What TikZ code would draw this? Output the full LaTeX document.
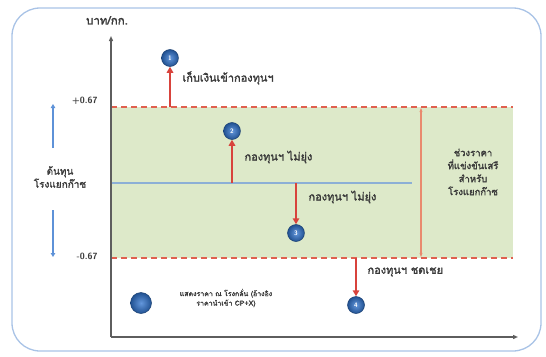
\documentclass[tikz,border=0pt]{standalone}
\usepackage{fontspec}
\setmainfont{Liberation Sans}
\newfontfamily\thaifont[Script=Thai, FakeBold=2]{Loma}
\usetikzlibrary{arrows.meta, positioning}
\definecolor{cframe}{HTML}{A9C3E6}
\definecolor{cband}{HTML}{DDE9C9}
\definecolor{cdash}{HTML}{E0604F}
\definecolor{cred}{HTML}{D8433C}
\definecolor{csalmon}{HTML}{E98A6E}
\definecolor{caxis}{HTML}{5E5E5E}
\definecolor{cmid}{HTML}{8CAFD6}
\definecolor{cblue}{HTML}{5E92D8}
\definecolor{cball}{HTML}{2F74D0}
\definecolor{ctext}{HTML}{3A3A3A}
\tikzset{
  every picture/.style={line width=1pt},
  lbl/.style={font=\thaifont\fontsize{11}{12}\selectfont, text=ctext, inner sep=1pt},
  num/.style={font=\sffamily\bfseries\fontsize{9}{11}\selectfont, text=ctext, inner sep=1pt},
  ball/.style={circle, inner color=cball!75!white, outer color=cball!70!black, draw=cball!55!black, line width=0.5pt,
    minimum size=17pt, inner sep=0pt, text=white, font=\sffamily\bfseries\fontsize{6.5}{7}\selectfont},
  redarrow/.style={-{Triangle[length=6pt, width=6.5pt]}, draw=cred, line width=1.6pt},
  bluearrow/.style={-{Triangle[length=4pt, width=4.5pt]}, draw=cblue, line width=1.4pt},
  axis/.style={-{Triangle[length=5pt, width=4pt]}, draw=caxis, line width=1.3pt},
  limit/.style={draw=cdash, dashed, dash pattern=on 6pt off 4pt, line width=1.6pt},
}
\begin{document}
\begin{tikzpicture}[x=1pt, y=-1pt]
  \useasboundingbox (0,0) rectangle (546,356);
  % frame and band
  \draw[cframe, line width=1.3pt, rounded corners=28pt] (12,8) rectangle (541,351);
  \fill[cband] (111,107) rectangle (513,258);
  \coordinate (hiL) at (111,107); \coordinate (hiR) at (513,107);
  \coordinate (loL) at (111,258); \coordinate (loR) at (513,258);
  \coordinate (midL) at (111,183); \coordinate (midR) at (412,183);
  \draw[cmid, line width=1.3pt] (midL) -- (midR);
  \draw[limit] (hiL) -- (hiR);
  \draw[limit] (loL) -- (loR);
  % axes
  \coordinate (o) at (111,337);
  \coordinate (ytop) at (111,36);
  \coordinate (xend) at (518,337);
  \draw[axis] (o) -- (ytop);
  \draw[axis] (o) -- (xend);
  \node[lbl, anchor=south, font=\thaifont\fontsize{11.5}{13}\selectfont] (unit) at (107,26) {บาท/กก.};
  % range of free competition
  \coordinate (rtop) at (421,108);
  \coordinate (rbot) at (421,257);
  \draw[csalmon, line width=1.1pt, {Stealth[length=4pt]}-{Stealth[length=4pt]}] (rtop) -- (rbot);
  \node[lbl, align=center, font=\thaifont\fontsize{9.5}{13}\selectfont] (range) at (473,172) {ช่วงราคา\\ที่แข่งขันเสรี\\สำหรับ\\โรงแยกก๊าซ};
  % left side: cost of the plant
  \node[num, anchor=east] (plus) at (99,101) {+0.67};
  \node[num, anchor=east] (minus) at (99,256) {-0.67};
  \node[lbl, align=center, font=\thaifont\fontsize{10}{13}\selectfont] (cost) at (60,177) {ต้นทุน\\โรงแยกก๊าซ};
  \coordinate (up0) at (53,148); \coordinate (up1) at (53,104);
  \coordinate (dn0) at (53,210); \coordinate (dn1) at (53,257);
  \draw[bluearrow] (up0) -- (up1);
  \draw[bluearrow] (dn0) -- (dn1);
  % four cases
  \node[ball] (b1) at (170,58) {1};
  \coordinate (a1) at (170,107);
  \draw[redarrow] (a1) -- (b1);
  \node[lbl, anchor=west] (t1) at (181,78) {เก็บเงินเข้ากองทุนฯ};
  \node[ball] (b2) at (232,131) {2};
  \coordinate (a2) at (232,183);
  \draw[redarrow] (a2) -- (b2);
  \node[lbl, anchor=west] (t2) at (243,157) {กองทุนฯ ไม่ยุ่ง};
  \node[ball] (b3) at (296,233) {3};
  \coordinate (a3) at (296,183);
  \draw[redarrow] (a3) -- (b3);
  \node[lbl, anchor=west] (t3) at (307,197) {กองทุนฯ ไม่ยุ่ง};
  \node[ball] (b4) at (356,305) {4};
  \coordinate (a4) at (356,258);
  \draw[redarrow] (a4) -- (b4);
  \node[lbl, anchor=west] (t4) at (366,272) {กองทุนฯ ชดเชย};
  % legend
  \node[ball, minimum size=21pt] (lg) at (141,303) {};
  \node[lbl, align=center, font=\thaifont\fontsize{7}{9.5}\selectfont] (lgtext) at (226,298) {แสดงราคา ณ โรงกลั่น (อ้างอิง\\ราคานำเข้า CP+X)};
\end{tikzpicture}
\end{document}
